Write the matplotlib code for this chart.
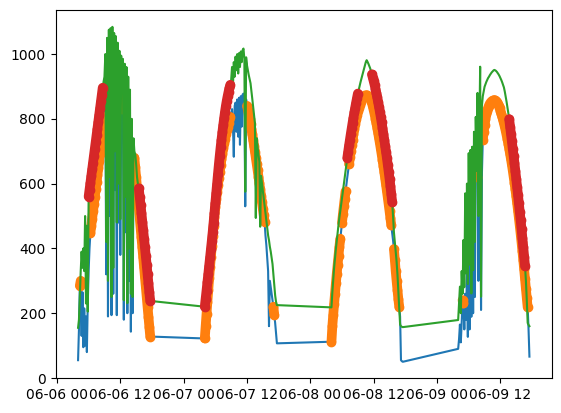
import numpy as np
import pandas as pd
import matplotlib
matplotlib.use("Agg")
import matplotlib.pyplot as plt
import matplotlib.dates as mdates

# ---- data (10-minute samples from 04:00 each day) ----
day_starts = ["2023-06-06 04:00", "2023-06-07 04:00", "2023-06-08 04:00", "2023-06-09 04:00"]

blue_d1 = [55, 150, 285, 300, 130, 265, 95, 215, 100, 190, 80, 230, 330, 400,
           447, 470, 492, 514, 537, 560, 582, 604, 626, 648, 670, 692, 714, 737, 760, 782, 806,
           860, 320, 900, 190, 930, 500, 940, 194, 950, 260, 930, 580, 920, 194, 900, 480, 790,
           380, 800, 830, 905, 180, 850, 450, 830, 200, 800, 300, 770, 143, 680, 200, 640,
           680, 650, 619, 588, 557, 527, 496, 465, 434, 404, 373, 342, 311, 281, 250, 219, 189, 158, 128]
green_d1 = [155, 180, 250, 330, 390, 340, 400, 330, 500, 230, 470, 205,
            560, 581, 602, 623, 644, 665, 686, 707, 728, 749, 770, 791, 812, 833, 854, 875, 896, 915, 930,
            1000, 420, 1050, 300, 1075, 620, 1080, 250, 1084, 340, 1065, 700, 1055, 480, 1035, 600, 1010,
            490, 995, 950, 985, 240, 970, 560, 960, 231, 930, 400, 890, 260, 800, 250, 740,
            700, 690, 660, 620, 600, 585, 560, 535, 510, 483, 457, 430, 403, 376, 348, 320, 292, 264, 238]

blue_d2 = [122, 160, 198, 236, 272, 308, 342, 375, 407, 438, 468, 497, 527, 552, 574, 596, 617, 637,
           656, 675, 692, 709, 724, 738, 752, 765, 776, 787, 797, 806,
           815, 830, 780, 683, 840, 850, 760, 860, 745, 865, 720, 870, 776, 875, 878, 870, 530, 860,
           840, 828, 815, 800, 785, 769, 752, 735, 717, 699, 680, 661, 642, 622, 602, 582, 562, 542,
           522, 502, 482,
           440, 410, 370, 330, 160, 300, 280, 260, 240, 220, 195, 170, 140, 107]
green_d2 = [220, 245, 270, 296, 321, 347, 372, 398, 424, 451, 480, 510, 540, 570, 600, 630, 659, 686,
            712, 736, 759, 781, 802, 822, 840, 856, 870, 883, 895, 905,
            920, 960, 900, 975, 930, 992, 950, 1000, 940, 1003, 960, 1008, 975, 1012, 1017, 985, 575,
            990, 965, 950, 935,
            922, 910, 887, 862, 837, 812, 787, 494, 740, 712, 690, 668, 467, 624, 600, 577, 555, 532,
            510, 488, 462, 440, 425, 405, 390, 372, 352, 320, 290, 255, 235, 225]

blue_d3 = [112, 160, 195, 228, 260, 292, 322, 350, 378, 405, 430, 455, 480, 505, 530, 553, 576, 598,
           620, 641, 661, 681, 700, 718, 736, 753, 769, 784, 798, 811, 823, 834, 844, 852, 858, 863,
           867, 870, 872, 873, 873, 872, 870, 867, 862, 856, 848, 838, 826, 814, 801, 787, 772, 757,
           741, 725, 708, 691, 673, 655, 636, 617, 597, 577, 557, 536, 515, 493, 471, 448, 425, 398,
           365, 330, 300, 272, 244, 220, 190, 55, 52, 50]
green_d3 = [218, 265, 305, 340, 370, 398, 424, 449, 473, 496, 515, 535, 556, 577, 598, 618, 640, 660,
            680, 699, 718, 736, 754, 771, 788, 804, 820, 835, 850, 864, 878, 890, 902, 913, 924, 934,
            944, 955, 965, 975, 981, 976, 970, 963, 956, 947, 937, 927, 916, 905, 893, 880, 866, 852,
            837, 822, 806, 789, 772, 754, 736, 717, 698, 679, 658, 637, 615, 592, 568, 543, 500, 450,
            420, 390, 360, 320, 270, 220, 165, 160, 158, 157]

blue_d4 = [90, 120, 165, 110, 170, 240, 230, 150, 260, 180, 330, 127, 400, 150, 480, 189, 540, 200,
           580, 250, 650, 621, 870, 300, 600, 780, 210, 632,
           735, 760, 782, 800, 814, 825, 834, 841, 847, 851, 854, 856, 857, 858, 857, 855, 851, 846,
           840, 833, 825, 816, 807, 797, 786, 775, 763, 750, 737, 723, 708, 692, 676, 659, 641, 622,
           603, 583, 562, 540, 517, 494, 470, 445, 419, 392, 364, 335, 305, 275, 246, 218, 150, 66]
green_d4 = [179, 230, 282, 200, 330, 260, 426, 280, 570, 323, 600, 290, 694, 350, 704, 261, 714, 333,
            760, 420, 806, 640, 880, 500, 760, 961, 251, 840,
            870, 885, 899, 907, 914, 920, 926, 930, 935, 939, 943, 946, 949, 951, 950, 948, 945, 941,
            937, 932, 926, 920, 913, 905, 897, 884, 869, 853, 836, 818, 799, 776, 754, 731, 708, 686,
            663, 639, 615, 590, 565, 539, 513, 487, 460, 432, 404, 375, 345, 300, 240, 170, 164, 160]

blue_days = [blue_d1, blue_d2, blue_d3, blue_d4]
green_days = [green_d1, green_d2, green_d3, green_d4]

# index spans (inclusive) of flagged samples
orange_spans = [[(2, 3), (14, 30), (50, 51), (64, 82)],
                [(0, 29), (48, 68), (78, 79)],
                [(0, 0), (1, 10), (12, 16), (20, 68), (71, 77)],
                [(5, 6), (20, 21), (28, 79)]]
red_spans = [[(12, 28), (69, 82)],
             [(0, 29)],
             [(18, 30), (46, 69)],
             [(58, 76)]]

# ---- build ----
times_days = [pd.date_range(s, periods=len(b), freq="10min") for s, b in zip(day_starts, blue_days)]
t_all = np.concatenate([t.values for t in times_days])
blue_all = np.concatenate([np.array(b, float) for b in blue_days])
green_all = np.concatenate([np.array(g, float) for g in green_days])


def masked(vals, spans):
    vals = np.array(vals, float)
    out = np.full(len(vals), np.nan)
    for a, b in spans:
        out[a:b + 1] = vals[a:b + 1]
    return out


fig = plt.figure(figsize=(5.61, 4.13), dpi=100)
ax = fig.add_axes([55.5 / 561, 35 / 413, (552 - 55.5) / 561, 368 / 413])

band = dict(marker="o", ms=6, mew=1, lw=7, solid_capstyle="round", solid_joinstyle="round")

ax.plot(t_all, blue_all, color="C0", lw=1.5)
for t, b, sp in zip(times_days, blue_days, orange_spans):
    ax.plot(t, masked(b, sp), color="C1", **band)
ax.plot(t_all, green_all, color="C2", lw=1.5)
for t, g, sp in zip(times_days, green_days, red_spans):
    ax.plot(t, masked(g, sp), color="C3", **band)

ax.set_ylim(0, 1136)
ax.xaxis.set_major_locator(mdates.HourLocator(byhour=[0, 12]))
ax.xaxis.set_major_formatter(mdates.DateFormatter("%m-%d %H"))

fig.savefig("out.png", dpi=100)
